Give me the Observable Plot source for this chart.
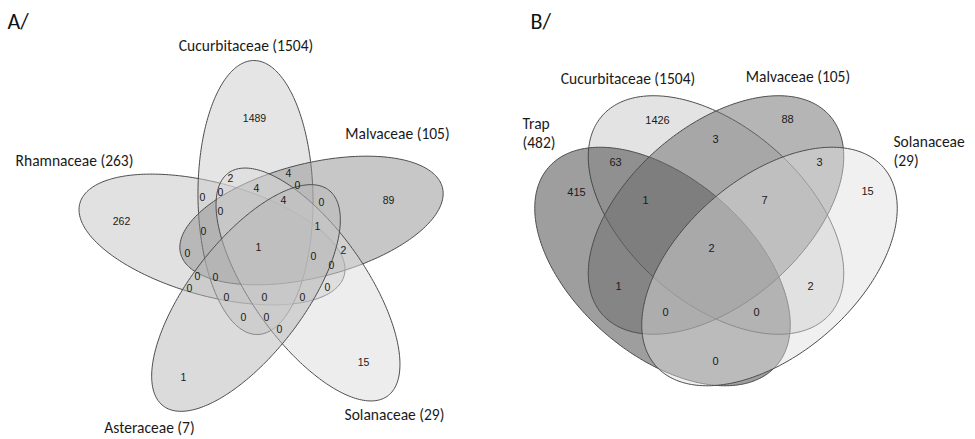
<!DOCTYPE html>
<html>
<head>
<meta charset="utf-8">
<script src="https://cdn.jsdelivr.net/npm/d3@7"></script>
<script src="https://cdn.jsdelivr.net/npm/@observablehq/plot@0.6"></script>
<style>
  html, body { margin: 0; padding: 0; background: #fff; }
  #chart svg { display: block; }
</style>
</head>
<body>
<div id="chart"></div>
<script>
// ---------------- DATA ----------------
// Panel A: five host families
const setsA = ["Rhamnaceae", "Cucurbitaceae", "Malvaceae", "Solanaceae", "Asteraceae"];
const totalsA = [263, 1504, 105, 29, 7];
// region counts (order matches layout list regionPosA)
const regionCountsA = [1489, 89, 262, 1, 15, 1, 2, 4, 0, 0, 0, 4, 4, 0, 0, 1, 0, 2, 0, 0, 0, 0, 0, 0, 0, 0, 0, 0, 0, 0, 0];

// Panel B: trap + three host families
const setsB = ["Trap", "Cucurbitaceae", "Malvaceae", "Solanaceae"];
const totalsB = [482, 1504, 105, 29];
const regionCountsB = [1426, 88, 415, 63, 3, 3, 15, 1, 7, 2, 1, 2, 0, 0, 0];

const panelLabels = ["A/", "B/"];

// ---------------- LAYOUT (diagram geometry, in plot units) ----------------
const ellipsesA = [
  {set: "Rhamnaceae",    cx: 211.5, cy: 239,   a: 137, b: 56.5, angle: 195.3, fill: "#c4c4c4", op: 0.5},
  {set: "Cucurbitaceae", cx: 255,   cy: 197,   a: 137, b: 57.5, angle: -90.8, fill: "#cccccc", op: 0.5},
  {set: "Malvaceae",     cx: 311,   cy: 220,   a: 135, b: 57,   angle: -14.1, fill: "#8f8f8f", op: 0.5},
  {set: "Solanaceae",    cx: 307.5, cy: 284,   a: 137, b: 57,   angle: 54.6,  fill: "#dcdcdc", op: 0.5},
  {set: "Asteraceae",    cx: 245.5, cy: 297.5, a: 136, b: 57,   angle: 127.5, fill: "#b8b8b8", op: 0.5}
];
const ellipsesB = [
  {set: "Cucurbitaceae", cx: 715.5, cy: 214.5, a: 151, b: 88, angle: 41,  fill: "#c7c7c7", op: 0.5},
  {set: "Trap",          cx: 662,   cy: 266,   a: 151, b: 88, angle: 41,  fill: "#3d3d3d", op: 0.5},
  {set: "Malvaceae",     cx: 715.5, cy: 214.5, a: 151, b: 88, angle: 139, fill: "#6b6b6b", op: 0.5},
  {set: "Solanaceae",    cx: 769,   cy: 266,   a: 151, b: 88, angle: 139, fill: "#dddddd", op: 0.45}
];
const regionPosA = [
  [254,118],[388,200],[121,221],[183,377],[363,362],[258,247],
  [230,178],[288,173],[297,185],[202,197],[220,192],[256,188],[283,200],[321,202],
  [220,211],[317,226],[203,231],[343,250],[187,253],[313,256],[331,265],
  [197,276],[215,277],[189,288],[327,287],[226,297],[264,297],[302,297],
  [243,317],[266,317],[279,329]
];
const regionPosB = [
  [657,120],[787,119],[576,192],[615,162],[715,139],[819,162],[867,191],
  [645,200],[764,200],[711,248],[618,286],[810,286],[665,312],[756,312],[715,361]
];
// set-name label anchors: [x, baseline, anchor, wrap]
const labelPosA = {
  Rhamnaceae:    [74, 165, "middle", false],
  Cucurbitaceae: [245.5, 50.5, "middle", false],
  Malvaceae:     [397, 138, "middle", false],
  Solanaceae:    [394, 419, "middle", false],
  Asteraceae:    [149, 432, "middle", false]
};
const labelPosB = {
  Trap:          [522, 147, "start", true],
  Cucurbitaceae: [627.5, 83, "middle", false],
  Malvaceae:     [797.5, 81, "middle", false],
  Solanaceae:    [893, 165, "start", true]
};
const panelPos = [[7, 28], [530, 28]];

// ---------------- BUILD ----------------
const W = 975, H = 439;
function ellipsePts(e, n = 240) {
  const t = e.angle * Math.PI / 180;
  return d3.range(n).map(i => {
    const u = 2 * Math.PI * i / n;
    const px = e.a * Math.cos(u), py = e.b * Math.sin(u);
    return {x: e.cx + px * Math.cos(t) - py * Math.sin(t),
            y: e.cy + px * Math.sin(t) + py * Math.cos(t)};
  });
}
const ellipseMarks = [...ellipsesA, ...ellipsesB].map(e =>
  Plot.line(ellipsePts(e), {
    x: "x", y: "y", curve: "linear-closed",
    fill: e.fill, fillOpacity: e.op,
    stroke: "#4d4d4d", strokeWidth: 1
  })
);

const numsA = regionCountsA.map((n, i) => ({n, x: regionPosA[i][0], y: regionPosA[i][1]}));
const numsB = regionCountsB.map((n, i) => ({n, x: regionPosB[i][0], y: regionPosB[i][1]}));

const setLabels = [
  ...setsA.map((s, i) => {
    const [x, y, anchor, wrap] = labelPosA[s];
    return {t: wrap ? `${s}\n(${totalsA[i]})` : `${s} (${totalsA[i]})`, x, y, anchor};
  }),
  ...setsB.map((s, i) => {
    const [x, y, anchor, wrap] = labelPosB[s];
    return {t: wrap ? `${s}\n(${totalsB[i]})` : `${s} (${totalsB[i]})`, x, y, anchor};
  })
];
const labelFont = "Carlito, Lato, 'Noto Sans', sans-serif";
const numFont = "'Liberation Sans', Arial, sans-serif";

const chart = Plot.plot({
  width: W, height: H, margin: 0,
  x: {domain: [0, W], range: [0, W], axis: null},
  y: {domain: [0, H], range: [0, H], axis: null},
  style: {background: "#fff"},
  marks: [
    ...ellipseMarks,
    Plot.text(numsA, {x: "x", y: "y", text: d => String(d.n), fontSize: 10.5, fontFamily: numFont, fill: "#1a1a1a"}),
    Plot.text(numsB, {x: "x", y: "y", text: d => String(d.n), fontSize: 11, fontFamily: numFont, fill: "#1a1a1a"}),
    Plot.text(setLabels.filter(d => d.anchor === "middle"), {x: "x", y: "y", text: "t", textAnchor: "middle", lineAnchor: "bottom", lineHeight: 1.2, fontSize: 15.5, fontFamily: labelFont, fill: "#1a1a1a"}),
    Plot.text(setLabels.filter(d => d.anchor === "start"), {x: "x", y: "y", text: "t", textAnchor: "start", lineAnchor: "bottom", lineHeight: 1.2, fontSize: 15.5, fontFamily: labelFont, fill: "#1a1a1a"}),
    Plot.text(panelLabels.map((t, i) => ({t, x: panelPos[i][0], y: panelPos[i][1]})), {x: "x", y: "y", text: "t", textAnchor: "start", lineAnchor: "bottom", fontSize: 22, fontFamily: labelFont, fill: "#111"})
  ]
});
document.getElementById("chart").appendChild(chart);
</script>
</body>
</html>
